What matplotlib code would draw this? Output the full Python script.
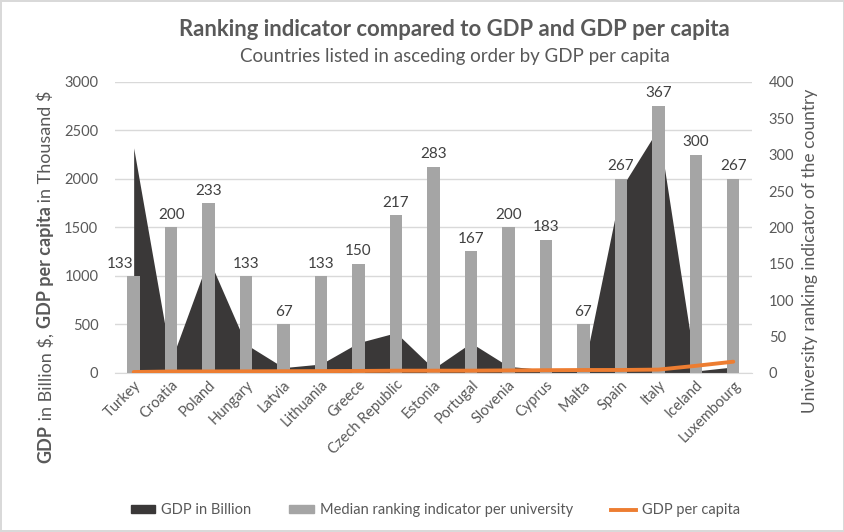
import numpy as np
import matplotlib
matplotlib.use('Agg')
import matplotlib.pyplot as plt
from matplotlib.patches import Patch
from matplotlib.lines import Line2D

plt.rcParams['font.family'] = ['Lato', 'DejaVu Sans']

countries = ['Turkey', 'Croatia', 'Poland', 'Hungary', 'Latvia', 'Lithuania',
             'Greece', 'Czech Republic', 'Estonia', 'Portugal', 'Slovenia',
             'Cyprus', 'Malta', 'Spain', 'Italy', 'Iceland', 'Luxembourg']
# GDP in billion $ (area, left axis)
gdp_bn = [2320, 125, 1180, 295, 55, 92, 312, 415, 45, 310, 68, 32, 20, 1900, 2520, 20, 62]
# GDP per capita in thousand $ (line, left axis)
gdp_pc = [9.4, 14.9, 15.4, 16.4, 17.8, 19.1, 20.3, 23.1, 23.3, 23.4, 26.1, 28.2,
          30.0, 30.4, 34.3, 73.2, 116]
# median ranking indicator per university (bars, right axis)
ranking = [133, 200, 233, 133, 67, 133, 150, 217, 283, 167, 200, 183, 67, 267, 367, 300, 267]

txt = '#595959'
dark = '#3a3838'
grey = '#a5a5a5'
orange = '#ed7d31'

fig = plt.figure(figsize=(8.45, 5.32), dpi=100)
fig.patch.set_edgecolor('#d9d9d9')
fig.patch.set_linewidth(1.5)

ax1 = fig.add_axes([0.136, 0.299, 0.754, 0.547])
x = np.arange(len(countries))

ax1.fill_between(x, gdp_bn, 0, color=dark, lw=0, zorder=2)
ax1.set_ylim(0, 3000)
ax1.set_xlim(-0.5, len(countries) - 0.5)
ax1.set_yticks(range(0, 3001, 500))
ax1.yaxis.grid(True, color='#d9d9d9', lw=1)
ax1.set_axisbelow(True)
for s in ['top', 'right', 'left']:
    ax1.spines[s].set_visible(False)
ax1.spines['bottom'].set_color('#d9d9d9')
ax1.tick_params(axis='both', length=0, colors=txt, labelsize=10.5)
ax1.tick_params(axis='y', pad=12)
ax1.set_xticks(x)
ax1.set_xticklabels(countries, rotation=45, ha='right', rotation_mode='anchor')

# bars on the secondary axis
ax2 = ax1.twinx()
bars = ax2.bar(x, ranking, width=0.33, color=grey, zorder=3)
ax2.set_ylim(0, 400)
ax2.set_yticks(range(0, 401, 50))
for s in ax2.spines.values():
    s.set_visible(False)
ax2.tick_params(axis='y', length=0, colors=txt, labelsize=10.5, pad=12)
for i, (b, v) in enumerate(zip(bars, ranking)):
    dx = -10 if i == 0 else 0  # keep the first label clear of the area peak
    ax2.annotate(str(v), (b.get_x() + b.get_width() / 2, v), xytext=(dx, 4),
                 textcoords='offset points', ha='center', va='bottom',
                 color='#404040', fontsize=11)

# per-capita line on top of everything
ax3 = ax1.twinx()
ax3.set_ylim(0, 3000)
ax3.axis('off')
ax3.plot(x, gdp_pc, color=orange, lw=2.8, solid_capstyle='round')

fig.text(0.538, 0.944, 'Ranking indicator compared to GDP and GDP per capita',
         ha='center', va='center', fontsize=15.9, fontweight='bold', color=txt)
fig.text(0.538, 0.893, 'Countries listed in asceding order by GDP per capita',
         ha='center', va='center', fontsize=13.5, color=txt)

fig.text(0.958, 0.528, 'University ranking indicator of the country', rotation=90,
         ha='center', va='center', fontsize=12.5, color=txt)

# left label with bold segments, laid out piece by piece
renderer = fig.canvas.get_renderer()
pieces = [('GDP', 'bold'), (' in Billion $, ', 'normal'),
          ('GDP per capita', 'bold'), (' in Thousand $', 'normal')]
ylab_x = 46 / 845
ypos = (532 - 463) / 532
for s, w in pieces:
    t = fig.text(ylab_x, ypos, s, rotation=90, ha='center', va='bottom',
                 fontsize=13, fontweight=w, color=txt)
    ypos += t.get_window_extent(renderer).height / fig.bbox.height

handles = [Patch(color=dark), Patch(color=grey), Line2D([], [], color=orange, lw=2.8)]
labels = ['GDP in Billion', 'Median ranking indicator per university', 'GDP per capita']
fig.legend(handles, labels, loc='center', bbox_to_anchor=(0.515, 0.041), ncol=3,
           frameon=False, fontsize=10.5, labelcolor=txt, handlelength=1.7,
           handleheight=0.5, columnspacing=2.6, handletextpad=0.4)

fig.savefig('out.png', dpi=100)
